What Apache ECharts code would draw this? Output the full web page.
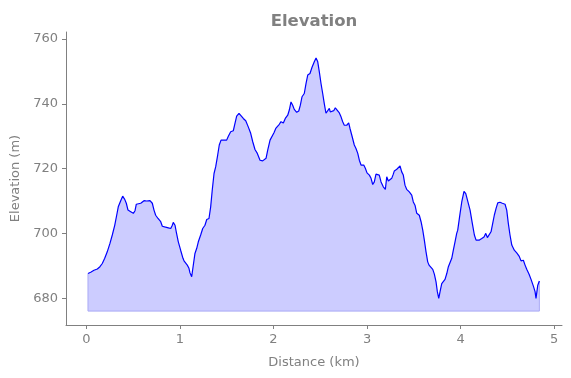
<!DOCTYPE html>
<html>
<head>
<meta charset="utf-8">
<script src="https://cdn.jsdelivr.net/npm/echarts@6/dist/echarts.min.js"></script>
<style>
  html, body { margin: 0; padding: 0; background: #fff; }
  #chart { width: 571px; height: 378px; }
</style>
</head>
<body>
<div id="chart"></div>
<script>
// Elevation profile
var distance = [
  0.016, 0.045, 0.080, 0.116, 0.144, 0.169, 0.195, 0.222, 0.251, 0.276,
  0.302, 0.323, 0.340, 0.366, 0.387, 0.409, 0.426, 0.444, 0.473, 0.501,
  0.519, 0.533, 0.554, 0.580, 0.597, 0.615, 0.644, 0.679, 0.704, 0.722,
  0.740, 0.765, 0.794, 0.811, 0.836, 0.853, 0.875, 0.901, 0.918, 0.928,
  0.947, 0.960, 0.982, 1.007, 1.032, 1.043, 1.064, 1.078, 1.096, 1.107,
  1.125, 1.142, 1.160, 1.179, 1.196, 1.221, 1.243, 1.267, 1.286, 1.310,
  1.328, 1.345, 1.364, 1.382, 1.403, 1.420, 1.439, 1.474, 1.499, 1.517,
  1.542, 1.570, 1.588, 1.606, 1.631, 1.652, 1.677, 1.703, 1.730, 1.756,
  1.778, 1.802, 1.827, 1.856, 1.884, 1.902, 1.920, 1.938, 1.963, 1.984,
  2.005, 2.024, 2.045, 2.062, 2.080, 2.105, 2.126, 2.152, 2.169, 2.187,
  2.205, 2.222, 2.248, 2.270, 2.287, 2.305, 2.329, 2.348, 2.366, 2.390,
  2.412, 2.436, 2.455, 2.473, 2.490, 2.508, 2.526, 2.543, 2.561, 2.580,
  2.597, 2.607, 2.626, 2.644, 2.661, 2.682, 2.704, 2.722, 2.740, 2.757,
  2.783, 2.804, 2.818, 2.840, 2.864, 2.882, 2.901, 2.918, 2.936, 2.965,
  2.982, 3.000, 3.025, 3.043, 3.061, 3.078, 3.096, 3.114, 3.131, 3.150,
  3.174, 3.196, 3.211, 3.228, 3.246, 3.264, 3.281, 3.292, 3.318, 3.335,
  3.353, 3.371, 3.388, 3.406, 3.424, 3.452, 3.478, 3.495, 3.513, 3.532,
  3.559, 3.578, 3.596, 3.613, 3.631, 3.649, 3.663, 3.684, 3.703, 3.720,
  3.738, 3.752, 3.767, 3.781, 3.799, 3.816, 3.834, 3.853, 3.870, 3.888,
  3.906, 3.923, 3.941, 3.959, 3.970, 3.995, 4.013, 4.037, 4.056, 4.077,
  4.102, 4.126, 4.148, 4.166, 4.198, 4.227, 4.251, 4.270, 4.287, 4.308,
  4.326, 4.344, 4.361, 4.380, 4.398, 4.422, 4.447, 4.476, 4.494, 4.511,
  4.529, 4.548, 4.575, 4.601, 4.626, 4.647, 4.672, 4.690, 4.708, 4.733,
  4.754, 4.779, 4.797, 4.807, 4.826, 4.843
];

var elevation = [
  687.6, 688.0, 688.6, 689.0, 689.7, 690.7, 692.3, 694.3, 696.9, 699.5,
  702.5, 705.6, 708.2, 710.1, 711.5, 710.5, 709.3, 707.2, 706.7, 706.2,
  707.0, 709.0, 709.4, 709.3, 708.7, 710.1, 710.0, 710.1, 709.3, 707.2,
  705.6, 704.6, 703.6, 702.2, 702.0, 702.5, 701.7, 701.5, 702.5, 703.4,
  702.5, 700.5, 697.4, 694.8, 692.3, 691.5, 691.5, 690.2, 689.2, 687.8,
  686.6, 686.4, 693.8, 695.4, 697.4, 699.5, 701.5, 702.5, 704.3, 704.6,
  708.2, 713.4, 718.5, 720.6, 724.2, 727.3, 728.8, 728.8, 728.8, 730.0,
  731.4, 731.7, 734.0, 736.2, 737.1, 736.8, 735.5, 734.8, 732.9, 730.9,
  728.3, 725.9, 724.7, 722.6, 722.4, 722.1, 723.2, 725.7, 728.8, 729.3,
  731.1, 732.4, 732.7, 733.7, 734.5, 734.1, 735.5, 736.5, 738.1, 740.6,
  739.6, 738.3, 737.4, 737.8, 739.6, 742.2, 743.2, 746.3, 748.9, 749.4,
  751.3, 753.0, 754.2, 753.0, 749.9, 746.3, 743.2, 740.1, 737.1, 736.5,
  738.6, 737.5, 737.2, 737.9, 738.8, 738.6, 737.2, 736.0, 734.5, 733.4,
  733.4, 734.1, 732.4, 730.0, 727.3, 726.2, 724.7, 722.6, 721.1, 721.1,
  720.1, 718.7, 718.0, 717.0, 715.1, 715.9, 718.3, 718.7, 718.0, 715.9,
  714.4, 713.6, 717.5, 716.2, 716.7, 717.0, 718.3, 719.3, 719.8, 720.4,
  720.8, 719.0, 718.0, 714.9, 713.6, 712.8, 711.8, 709.7, 708.7, 706.2,
  705.6, 703.6, 701.0, 697.9, 694.3, 691.2, 690.2, 689.9, 688.9, 687.4,
  685.0, 682.0, 679.9, 682.0, 684.5, 684.5, 685.8, 687.6, 689.7, 689.9,
  692.3, 694.8, 697.4, 700.0, 701.0, 706.2, 709.7, 713.0, 712.3, 711.8,
  707.2, 703.1, 699.5, 697.9, 697.9, 698.4, 698.9, 700.0, 698.7, 699.2,
  700.5, 703.1, 705.6, 707.7, 709.4, 709.6, 709.3, 709.0, 707.2, 703.1,
  699.5, 696.4, 694.8, 694.0, 693.0, 691.5, 691.7, 690.2, 688.9, 687.4,
  685.8, 683.7, 682.0, 679.9, 684.0, 685.3
];

var baseline = 676;
var xTicks = [0, 1, 2, 3, 4, 5];
var yTicks = [680, 700, 720, 740, 760];

var profile = distance.map(function (d, i) { return [d, elevation[i]]; });
var last = distance.length - 1;
var fillEdge = [
  [distance[0], elevation[0]],
  [distance[0], baseline],
  [distance[last], baseline],
  [distance[last], elevation[last]]
];

var grey = '#808080';
var font = 'DejaVu Sans';

var chart = echarts.init(document.getElementById('chart'), null, { renderer: 'canvas' });

chart.setOption({
  animation: false,
  backgroundColor: '#ffffff',
  textStyle: { fontFamily: font },
  title: {
    text: 'Elevation',
    left: 309,
    top: 8,
    textAlign: 'center',
    textStyle: { fontFamily: font, fontWeight: 'bold', fontSize: 16.5, color: grey }
  },
  grid: { left: 66, right: 9, top: 32, bottom: 53 },
  xAxis: {
    type: 'value',
    min: -0.219,
    max: 5.085,
    name: 'Distance (km)',
    nameLocation: 'middle',
    nameGap: 31,
    nameTextStyle: { fontFamily: font, fontSize: 13, color: grey },
    axisLine: { show: true, onZero: false, lineStyle: { color: grey, width: 1 } },
    axisTick: { show: true, length: 4, lineStyle: { color: grey }, customValues: xTicks },
    axisLabel: { color: grey, fontSize: 13, fontFamily: font, margin: 8, customValues: xTicks },
    splitLine: { show: false }
  },
  yAxis: {
    type: 'value',
    min: 671.7,
    max: 762.2,
    name: 'Elevation (m)',
    nameLocation: 'middle',
    nameGap: 40,
    nameTextStyle: { fontFamily: font, fontSize: 13, color: grey },
    axisLine: { show: true, onZero: false, lineStyle: { color: grey, width: 1 } },
    axisTick: { show: true, length: 4, lineStyle: { color: grey }, customValues: yTicks },
    axisLabel: { color: grey, fontSize: 13, fontFamily: font, margin: 8, customValues: yTicks },
    splitLine: { show: false }
  },
  series: [
    {
      type: 'line',
      data: profile,
      symbol: 'none',
      silent: true,
      lineStyle: { width: 0 },
      areaStyle: { color: '#ccccff', opacity: 1, origin: baseline }
    },
    {
      type: 'line',
      data: fillEdge,
      symbol: 'none',
      silent: true,
      lineStyle: { color: '#aaaaf5', width: 1 }
    },
    {
      type: 'line',
      data: profile,
      symbol: 'none',
      lineStyle: { color: '#0000ff', width: 1.2 }
    }
  ]
});
</script>
</body>
</html>
